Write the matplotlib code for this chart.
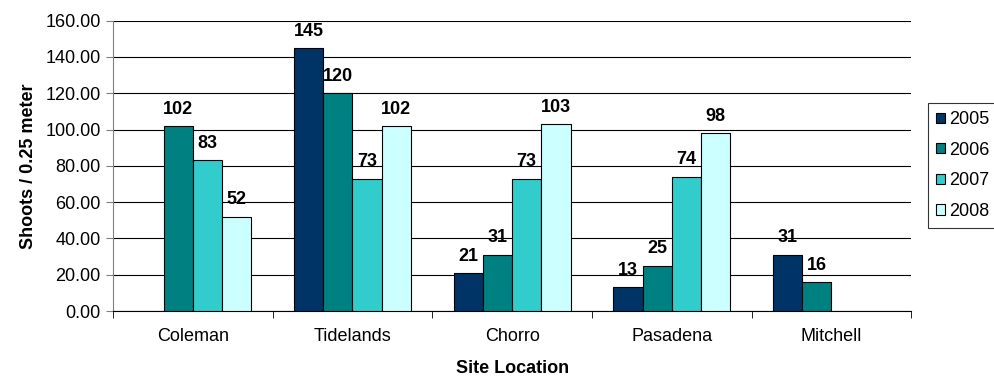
import matplotlib.pyplot as plt
import numpy as np

plt.rcParams['font.family'] = ['Liberation Sans', 'DejaVu Sans']

sites = ["Coleman", "Tidelands", "Chorro", "Pasadena", "Mitchell"]
years = ["2005", "2006", "2007", "2008"]
v2005 = [np.nan, 145, 21, 13, 31]
v2006 = [102, 120, 31, 25, 16]
v2007 = [83, 73, 73, 74, np.nan]
v2008 = [52, 102, 103, 98, np.nan]
colors = ["#003366", "#008080", "#33CCCC", "#CCFFFF"]

fs = 13

fig = plt.figure(figsize=(9.94, 3.79), dpi=100)
ax = fig.add_axes([0.1137, 0.1794, 0.803, 0.766])

x = np.arange(len(sites))
w = 0.183
series = [v2005, v2006, v2007, v2008]
for i, (vals, yr, c) in enumerate(zip(series, years, colors)):
    bars = ax.bar(x + (i - 1.5) * w, vals, w, color=c, edgecolor="black",
                  linewidth=0.8, label=yr, zorder=3)
    labels = ["" if np.isnan(v) else f"{v:.0f}" for v in vals]
    ax.bar_label(bars, labels=labels, padding=6, fontsize=fs,
                 fontweight="bold", zorder=4)

ax.set_xlim(-0.5, len(sites) - 0.5)
ax.set_ylim(0, 160)
ax.set_yticks(np.arange(0, 161, 20))
ax.set_yticklabels([f"{t:.2f}" for t in np.arange(0, 161, 20)], fontsize=fs)
ax.yaxis.grid(True, color="black", linewidth=0.8, zorder=0)
ax.set_axisbelow(True)

ax.set_xticks(x)
ax.set_xticklabels(sites, fontsize=fs)
ax.tick_params(axis="x", length=0, pad=12)
ax.set_xticks(np.arange(-0.5, len(sites)), minor=True)
ax.tick_params(axis="x", which="minor", length=5, direction="out")
ax.tick_params(axis="y", length=5, direction="out", color="#808080", pad=4)

for s in ["top", "right"]:
    ax.spines[s].set_visible(False)
ax.spines["left"].set_color("#808080")
ax.spines["bottom"].set_color("black")

ax.set_xlabel("Site Location", fontsize=fs, fontweight="bold", labelpad=11)
ax.set_ylabel("Shoots / 0.25 meter", fontsize=fs, fontweight="bold", labelpad=6)

handles, lbls = ax.get_legend_handles_labels()
leg = fig.legend(handles, lbls, loc="upper left", bbox_to_anchor=(0.9336, 0.728),
                 fontsize=fs, frameon=True, fancybox=False, edgecolor="black",
                 handlelength=0.5, handleheight=0.5, handletextpad=0.2,
                 labelspacing=0.75, borderpad=0.45, borderaxespad=0)
leg.get_frame().set_linewidth(0.8)

fig.savefig("out.png", dpi=100)
